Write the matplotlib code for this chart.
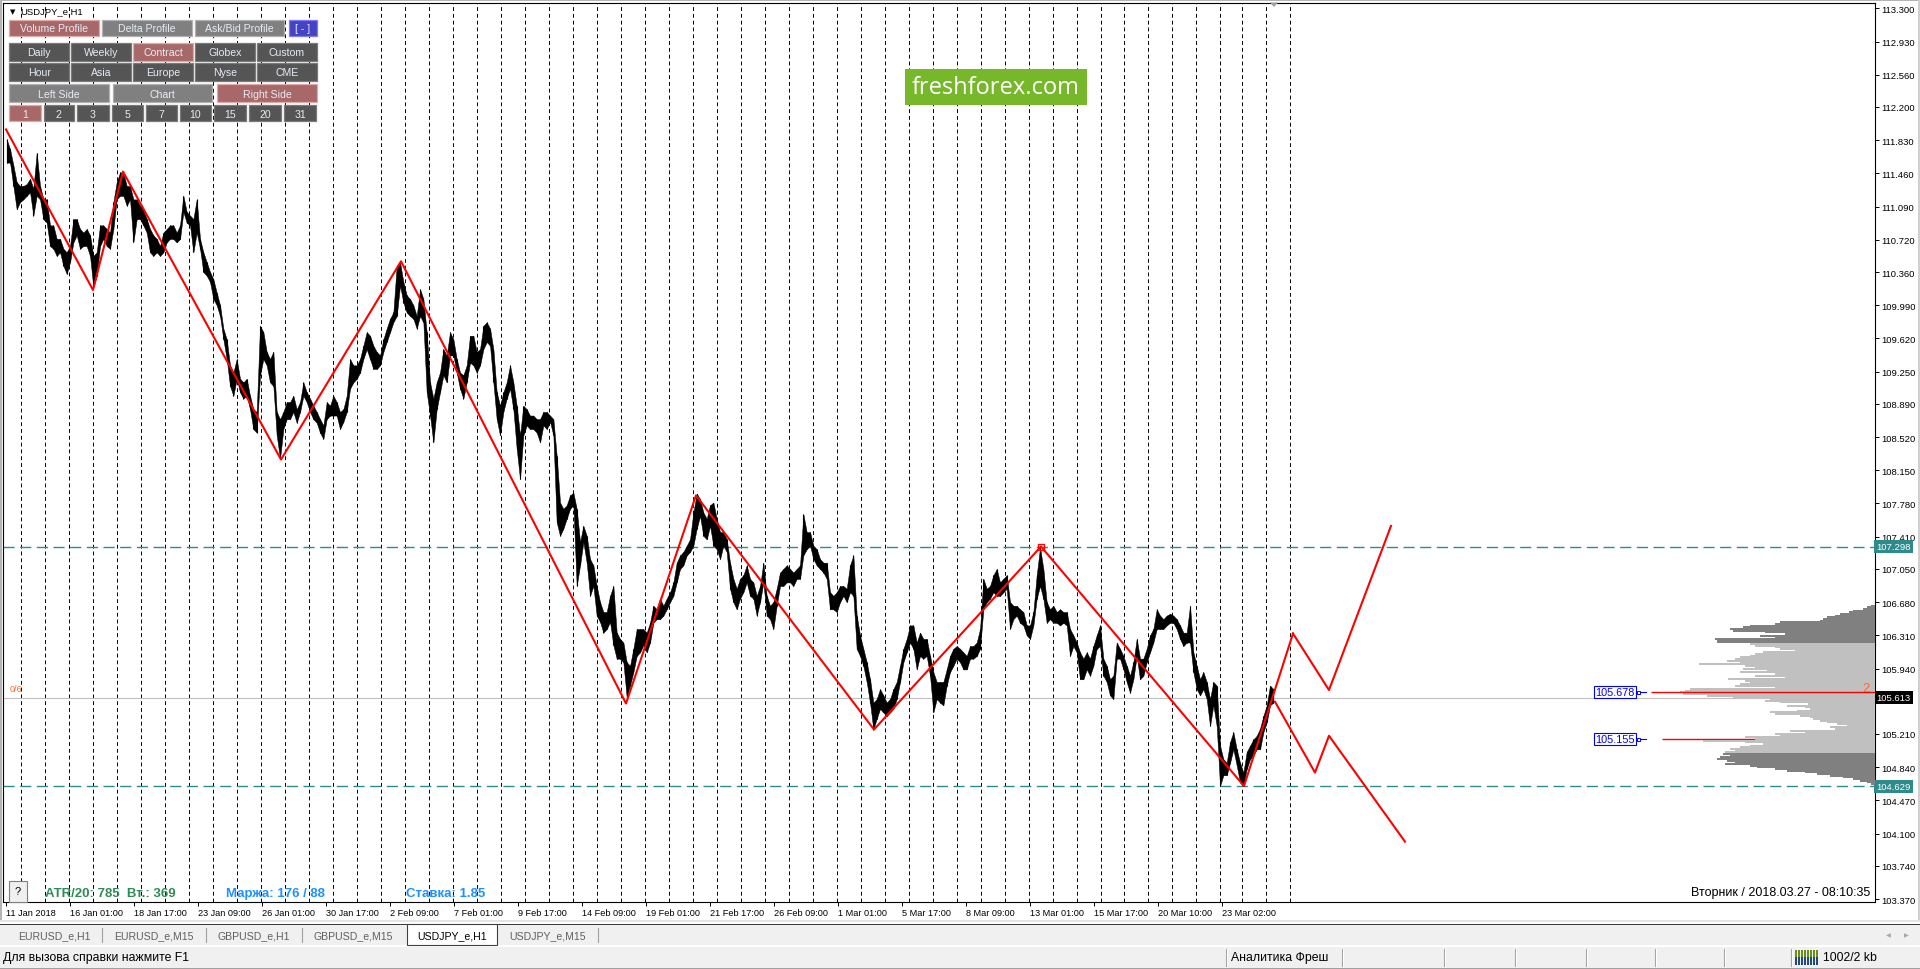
import matplotlib.pyplot as plt
from matplotlib.patches import Rectangle, Polygon
from matplotlib.lines import Line2D
import numpy as np

plt.rcParams['font.family'] = ['Liberation Sans', 'DejaVu Sans']

# ---------------- data ----------------
time_labels = ['11 Jan 2018', '16 Jan 01:00', '18 Jan 17:00', '23 Jan 09:00', '26 Jan 01:00',
               '30 Jan 17:00', '2 Feb 09:00', '7 Feb 01:00', '9 Feb 17:00', '14 Feb 09:00',
               '19 Feb 01:00', '21 Feb 17:00', '26 Feb 09:00', '1 Mar 01:00', '5 Mar 17:00',
               '8 Mar 09:00', '13 Mar 01:00', '15 Mar 17:00', '20 Mar 10:00', '23 Mar 02:00']
bars_per_label = 64

# 105.570 sits under the bid tag in the terminal, so it is left out here
price_ticks = [113.300, 112.930, 112.560, 112.200, 111.830, 111.460, 111.090, 110.720, 110.360,
               109.990, 109.620, 109.250, 108.890, 108.520, 108.150, 107.780, 107.410, 107.050,
               106.680, 106.310, 105.940, 105.210, 104.840, 104.470, 104.100, 103.740, 103.370]

# day separators (bar index of each day start; 16 Mar and 23 Mar are short days)
day_starts = [15 + 24 * d for d in range(46)] + [1118, 1142, 1166, 1190, 1214, 1236, 1260, 1284]

# H1 price range, sampled every 10/3 bars (high / low of each sample)
hi_jan = [111.84, 111.73, 111.55, 111.36, 111.32, 111.32, 111.34, 111.40, 111.29, 111.69,
          111.32, 111.17, 111.17, 110.88, 110.88, 110.73, 110.73, 110.62, 110.58, 110.65,
          110.95, 110.95, 110.84, 110.80, 110.84, 110.77, 110.54, 110.58, 110.88, 110.88,
          110.84, 110.80, 111.14, 111.36, 111.47, 111.47, 111.32, 111.32, 111.17, 111.17,
          111.10, 111.06, 110.95, 110.84, 110.77, 110.73, 110.65, 110.80, 110.84, 110.88,
          110.88, 110.80, 110.88, 111.21, 111.03, 110.99, 110.95, 111.17, 110.73, 110.58,
          110.47, 110.36, 110.28, 110.13, 109.99, 109.73, 109.61, 109.32, 109.24, 109.39,
          109.17, 109.13, 109.17, 108.98, 108.83, 108.80, 109.76, 109.69, 109.47, 109.39,
          109.47, 108.80, 108.72, 108.80, 108.91, 108.91, 108.98, 108.83, 108.91, 109.13,
          109.02, 108.95, 108.87, 108.80, 108.72, 108.65, 108.91]
lo_jan = [111.58, 111.58, 111.32, 111.06, 111.14, 111.17, 111.21, 111.25, 110.99, 111.21,
          111.17, 110.95, 110.91, 110.65, 110.62, 110.54, 110.58, 110.43, 110.34, 110.47,
          110.69, 110.77, 110.62, 110.65, 110.65, 110.54, 110.19, 110.32, 110.65, 110.73,
          110.65, 110.62, 110.84, 111.17, 111.21, 111.21, 111.10, 111.17, 110.69, 110.95,
          110.95, 110.88, 110.80, 110.58, 110.54, 110.58, 110.54, 110.58, 110.69, 110.73,
          110.73, 110.69, 110.73, 111.03, 110.91, 110.88, 110.58, 110.80, 110.62, 110.36,
          110.32, 110.25, 110.06, 109.99, 109.87, 109.61, 109.39, 109.09, 108.98, 109.17,
          109.02, 108.95, 108.98, 108.83, 108.61, 108.57, 109.21, 109.39, 109.32, 109.13,
          109.09, 108.54, 108.28, 108.61, 108.72, 108.72, 108.80, 108.68, 108.80, 108.98,
          108.91, 108.80, 108.72, 108.68, 108.57, 108.50, 108.72]
hi_feb = [108.87, 108.98, 108.91, 108.80, 108.83, 108.98, 109.39, 109.32, 109.32, 109.39,
          109.54, 109.69, 109.65, 109.54, 109.47, 109.43, 109.61, 109.73, 109.84, 109.91,
          110.43, 110.47, 110.25, 110.10, 110.06, 109.99, 109.87, 110.17, 110.06, 109.69,
          109.13, 108.95, 109.13, 109.24, 109.50, 109.43, 109.69, 109.61, 109.39, 109.24,
          109.21, 109.32, 109.65, 109.65, 109.47, 109.50, 109.76, 109.80, 109.73, 109.50,
          109.02, 108.87, 109.02, 109.13, 109.32, 109.13, 108.87, 108.54, 108.87, 108.83,
          108.76, 108.76, 108.72, 108.72, 108.80, 108.80, 108.76, 108.72, 108.31, 107.79,
          107.72, 107.76, 107.87, 107.90, 107.72, 107.35, 107.53, 107.42, 107.16, 107.09,
          106.86, 106.68, 106.57, 106.57, 106.75, 106.86, 106.34, 106.27, 106.23, 106.01,
          105.97, 106.16, 106.38, 106.38, 106.38, 106.34, 106.45, 106.64, 106.60]
lo_feb = [108.76, 108.76, 108.76, 108.61, 108.69, 108.80, 109.06, 109.13, 109.17, 109.24,
          109.39, 109.50, 109.39, 109.28, 109.28, 109.32, 109.47, 109.58, 109.69, 109.80,
          109.87, 110.21, 110.02, 109.91, 109.87, 109.84, 109.73, 109.87, 109.80, 109.02,
          108.76, 108.46, 108.83, 109.02, 109.21, 109.13, 109.43, 109.43, 109.24, 109.06,
          108.95, 109.13, 109.35, 109.32, 109.24, 109.32, 109.50, 109.58, 109.54, 109.13,
          108.72, 108.54, 108.80, 108.95, 109.06, 108.83, 108.39, 108.05, 108.54, 108.65,
          108.61, 108.61, 108.57, 108.46, 108.65, 108.61, 108.69, 108.54, 107.57, 107.42,
          107.50, 107.61, 107.72, 107.76, 106.86, 107.09, 107.35, 107.12, 106.75, 106.86,
          106.53, 106.46, 106.34, 106.38, 106.46, 106.20, 106.05, 106.05, 106.01, 105.62,
          105.75, 105.90, 106.08, 106.12, 106.20, 106.12, 106.23, 106.45, 106.49]
hi_mar = [106.72, 106.64, 106.72, 106.79, 106.90, 107.12, 107.20, 107.24, 107.31, 107.38,
          107.68, 107.89, 107.83, 107.68, 107.61, 107.76, 107.79, 107.61, 107.46, 107.46,
          107.38, 107.12, 106.94, 106.83, 106.94, 106.98, 107.09, 106.94, 106.90, 106.75,
          106.86, 107.12, 106.75, 106.64, 106.68, 106.83, 107.01, 107.05, 107.09, 107.05,
          107.01, 107.05, 107.09, 107.66, 107.46, 107.46, 107.31, 107.27, 107.16, 107.12,
          107.12, 106.79, 106.75, 106.79, 106.86, 106.86, 106.83, 107.09, 107.20, 106.53,
          106.31, 106.16, 106.01, 105.82, 105.56, 105.60, 105.71, 105.64, 105.56, 105.60,
          105.71, 105.79, 105.97, 106.16, 106.27, 106.42, 106.42, 106.23, 106.34, 106.27,
          106.27, 106.08, 105.90, 105.79, 105.79, 105.79, 105.93, 106.08, 106.16, 106.19,
          106.16, 106.12, 106.08, 106.19, 106.19, 106.23, 106.38, 106.94, 106.83, 106.86,
          106.98, 107.05]
lo_mar = [106.49, 106.53, 106.60, 106.68, 106.75, 106.90, 107.05, 107.09, 107.20, 107.24,
          107.31, 107.50, 107.64, 107.42, 107.38, 107.53, 107.31, 107.27, 107.16, 107.31,
          107.24, 106.83, 106.68, 106.60, 106.72, 106.79, 106.90, 106.75, 106.72, 106.53,
          106.68, 106.90, 106.53, 106.49, 106.38, 106.64, 106.86, 106.86, 106.90, 106.90,
          106.86, 106.94, 106.94, 107.20, 107.27, 107.31, 107.16, 107.09, 107.05, 107.01,
          106.94, 106.60, 106.60, 106.57, 106.68, 106.75, 106.68, 106.79, 106.75, 106.16,
          106.08, 105.97, 105.79, 105.56, 105.26, 105.38, 105.49, 105.45, 105.41, 105.45,
          105.49, 105.60, 105.79, 106.01, 106.12, 106.23, 106.16, 105.93, 106.08, 106.05,
          106.08, 105.86, 105.45, 105.60, 105.56, 105.53, 105.75, 105.90, 105.97, 106.05,
          106.01, 105.93, 105.93, 106.05, 106.05, 106.08, 106.16, 106.60, 106.68, 106.72,
          106.79, 106.75]
hi_end = [106.90, 106.94, 106.98, 106.68, 106.64, 106.64, 106.60, 106.57, 106.42, 106.42,
          106.57, 106.98, 107.29, 107.05, 106.68, 106.60, 106.64, 106.57, 106.60, 106.57,
          106.57, 106.38, 106.31, 106.23, 106.12, 106.05, 106.12, 106.05, 106.19, 106.31,
          106.42, 106.05, 105.97, 105.82, 105.86, 106.23, 106.16, 106.08, 105.97, 105.86,
          106.01, 106.27, 106.05, 106.05, 106.16, 106.31, 106.38, 106.60, 106.53, 106.49,
          106.53, 106.55, 106.53, 106.49, 106.42, 106.34, 106.34, 106.64, 106.12, 105.97,
          105.82, 105.90, 105.79, 105.60, 105.79, 105.75, 105.08, 104.93, 104.89, 105.12,
          105.23, 105.04, 104.89, 104.78, 105.01, 105.08, 105.15, 105.19, 105.27, 105.41,
          105.53, 105.75, 105.71]
lo_end = [106.75, 106.79, 106.83, 106.38, 106.49, 106.53, 106.45, 106.42, 106.31, 106.27,
          106.42, 106.72, 106.86, 106.72, 106.45, 106.49, 106.45, 106.45, 106.42, 106.45,
          106.42, 106.08, 106.19, 106.12, 105.82, 105.82, 105.93, 105.86, 105.97, 106.16,
          106.19, 105.86, 105.79, 105.64, 105.60, 106.05, 106.05, 105.93, 105.79, 105.67,
          105.82, 106.08, 105.82, 105.86, 106.01, 106.12, 106.23, 106.38, 106.38, 106.38,
          106.42, 106.45, 106.45, 106.38, 106.27, 106.19, 106.23, 106.23, 105.90, 105.71,
          105.64, 105.71, 105.60, 105.30, 105.53, 105.30, 104.63, 104.75, 104.75, 104.89,
          105.04, 104.86, 104.67, 104.63, 104.82, 104.93, 104.97, 105.04, 105.04, 105.23,
          105.34, 105.53, 105.56]
sample_step = 10 / 3

# zigzag and the two projected paths
zz_bars = [0, 87, 117, 275, 395, 620, 690, 868, 1035, 1238, 1287]
zz_price = [111.95, 110.16, 111.48, 108.27, 110.48, 105.55, 107.87, 105.26, 107.30, 104.63, 106.33]
up_bars = [1287, 1323, 1385]
up_price = [106.33, 105.70, 107.53]
dn_bars = [1269, 1309, 1323, 1399]
dn_price = [105.57, 104.78, 105.19, 104.01]

level_top = 107.298
level_bottom = 104.629
bid = 105.613
poc = 105.678
second_level = 105.155

# volume profile (contract), top level and step, volumes per row
vp_top = 106.641
vp_step = 0.01858
vp_volume = [4, 8, 12, 22, 26, 35, 40, 48, 52, 55, 95, 100, 125, 132, 145, 142, 110, 90, 115, 100,
             160, 158, 158, 125, 120, 100, 95, 80, 112, 120, 125, 135, 140, 148, 135, 176, 130, 120,
             132, 108, 135, 100, 120, 90, 147, 130, 125, 135, 140, 100, 185, 190, 195, 192, 168, 142,
             105, 110, 95, 67, 88, 70, 65, 78, 105, 100, 75, 65, 62, 55, 48, 38, 28, 45, 40, 85, 70,
             100, 95, 130, 120, 172, 130, 112, 125, 135, 145, 140, 150, 152, 145, 155, 158, 148, 140,
             150, 125, 118, 100, 88, 70, 58, 45, 32, 22, 15, 8, 4]
va_high = 106.22
va_low = 105.00

# ---------------- figure ----------------
W, H = 1920, 970
fig = plt.figure(figsize=(W / 100, H / 100), dpi=100)
fig.patch.set_facecolor('white')


def fbox(x0, y0, x1, y1, fc, ec='none', lw=0.0, z=2):
    fig.add_artist(Rectangle((x0 / W, 1 - y1 / H), (x1 - x0) / W, (y1 - y0) / H,
                             transform=fig.transFigure, fc=fc, ec=ec, lw=lw, zorder=z))


def ftext(x, y, s, **kw):
    kw.setdefault('va', 'center')
    kw.setdefault('zorder', 6)
    fig.text(x / W, 1 - y / H, s, **kw)


def fline(xs, ys, **kw):
    fig.add_artist(Line2D([x / W for x in xs], [1 - y / H for y in ys],
                          transform=fig.transFigure, **kw))


L, T, R, B = 3, 3.5, 1875, 903
ax = fig.add_axes([L / W, 1 - B / H, (R - L) / W, (B - T) / H])
ymin, ymax = 103.337, 113.365
ax.set_xlim(-3, R - L - 3)
ax.set_ylim(ymin, ymax)

highs = np.array(hi_jan + hi_feb + hi_mar + hi_end)
lows = np.array(lo_jan + lo_feb + lo_mar + lo_end)
sample_bars = 0.7 + np.arange(len(highs)) * sample_step

ax.vlines(day_starts, ymin, ymax, colors='black', lw=0.7, linestyles=(0, (4, 3)), zorder=1)

teal = '#2E8B8B'
ax.axhline(level_top, color=teal, lw=1.0, ls=(0, (8, 4)), zorder=2)
ax.axhline(level_bottom, color=teal, lw=1.0, ls=(0, (8, 4)), zorder=2)
ax.axhline(bid, color='#C0C0C0', lw=0.8, zorder=2)

ax.fill_between(sample_bars, lows, highs, color='black', lw=0.35, zorder=3)
ax.vlines(sample_bars, lows, highs, colors='black', lw=0.8, zorder=3)

ax.plot(zz_bars, zz_price, color='red', lw=1.5, zorder=4)
ax.plot(up_bars, up_price, color='red', lw=1.5, zorder=4)
ax.plot(dn_bars, dn_price, color='red', lw=1.5, zorder=4)
ax.plot([zz_bars[8]], [zz_price[8]], marker='s', ms=4, mfc='none', mec='red', mew=1, zorder=5)

ax.set_xticks(np.arange(len(time_labels)) * bars_per_label)
ax.set_xticklabels(time_labels, ha='left', fontsize=6.6)
ax.tick_params(axis='x', direction='out', length=3, width=0.7, pad=1.5)
ax.yaxis.tick_right()
ax.set_yticks(price_ticks)
ax.set_yticklabels([f'{v:.3f}' for v in price_ticks], fontsize=6.8)
ax.tick_params(axis='y', direction='out', length=3, width=0.7, pad=1.5)
for s in ax.spines.values():
    s.set_linewidth(0.8)
    s.set_color('black')


def axis_tag(price, text, fc, tc='white'):
    ax.text(1.0008, price, text, transform=ax.get_yaxis_transform(), ha='left', va='center',
            fontsize=6.8, color=tc, clip_on=False, zorder=10,
            bbox=dict(boxstyle='square,pad=0.22', fc=fc, ec='none'))


axis_tag(level_top, f'{level_top:.3f}', teal)
axis_tag(level_bottom, f'{level_bottom:.3f}', teal)
axis_tag(bid, f'{bid:.3f}', 'black')

# volume profile on a twin axis, measured from the right edge
axp = ax.twiny()
axp.set_xlim(R - L, 0)
axp.axis('off')
vp_levels = vp_top - vp_step * np.arange(len(vp_volume))
vp_colors = ['#C0C0C0' if va_low <= lv <= va_high else '#808080' for lv in vp_levels]
axp.hlines(second_level, 0, 213, color='red', lw=1.0, zorder=1)
axp.barh(vp_levels, vp_volume, height=vp_step * 1.08, color=vp_colors, lw=0, zorder=2)
axp.hlines(poc, 0, 224, color='red', lw=1.0, zorder=3)

# boxed level labels of the profile
for price, yy in [(poc, 693), (second_level, 740)]:
    ftext(1595, yy, f'{price:.3f}', color='blue', fontsize=7.8, ha='left',
          bbox=dict(boxstyle='square,pad=0.12', fc='white', ec='blue', lw=0.8))
    fbox(1637, yy - 1.5, 1640, yy + 1.5, 'white', ec='blue', lw=0.7, z=6)
    fline([1640, 1646], [yy, yy], color='blue', lw=0.8, zorder=6)
ftext(1866, 689, '2', color='#FF6A30', fontsize=9.5, ha='center')
ftext(10, 689, '0/6', color='#FF6A30', fontsize=6.5, ha='left')

# ---------------- terminal decorations ----------------
fbox(0, 0, W, 1.5, '#B4B4B4', z=1)
fbox(0, 0, 1.5, 921, '#B4B4B4', z=1)
fbox(W - 2, 0, W, 921, '#D0D0D0', z=1)
fig.add_artist(Polygon([(1270 / W, 1 - 3.5 / H), (1278 / W, 1 - 3.5 / H), (1274 / W, 1 - 8 / H)],
                       closed=True, transform=fig.transFigure, fc='#A0A0A0', ec='none', zorder=3))

ftext(12.5, 12, '\u25bc', fontsize=5, ha='center', family='DejaVu Sans')
ftext(20, 12, 'USDJPY_e,H1', fontsize=6.8, ha='left')

styles = {'red': ('#A86868', '#E0A8A8'), 'grey': ('#808080', '#B0B0B0'),
          'dark': ('#555555', '#7A7A7A'), 'blue': ('#4343C4', '#7B7BFF')}
buttons = [
    ((20.7, 37.3), [('Volume Profile', 9.3, 99.3, 'red'), ('Delta Profile', 102, 192, 'grey'),
                    ('Ask/Bid Profile', 195, 284, 'grey'), ('[ - ]', 289, 317, 'blue')]),
    ((44.3, 61.7), [('Daily', 9.3, 69, 'dark'), ('Weekly', 71, 131, 'dark'), ('Contract', 133, 193, 'red'),
                    ('Globex', 195, 255, 'dark'), ('Custom', 257, 317, 'dark')]),
    ((64.3, 81.7), [('Hour', 9.3, 69, 'dark'), ('Asia', 71, 131, 'dark'), ('Europe', 133, 193, 'dark'),
                    ('Nyse', 195, 255, 'dark'), ('CME', 257, 317, 'dark')]),
    ((85.3, 102.7), [('Left Side', 9.3, 109, 'grey'), ('Chart', 113, 212, 'grey'),
                     ('Right Side', 217, 317, 'red')]),
    ((106, 122), [('1', 9.3, 40.7, 'red'), ('2', 43.5, 74, 'dark'), ('3', 77.3, 108.5, 'dark'),
                  ('5', 111.7, 142.7, 'dark'), ('7', 145.7, 176.7, 'dark'), ('10', 179.7, 211, 'dark'),
                  ('15', 214, 246, 'dark'), ('20', 249.3, 280.7, 'dark'), ('31', 284, 316, 'dark')]),
]
for (y0, y1), row in buttons:
    for label, x0, x1, kind in row:
        fc, ec = styles[kind]
        fbox(x0, y0, x1, y1, fc, ec=ec, lw=0.9, z=4)
        ftext((x0 + x1) / 2, (y0 + y1) / 2 + 0.5, label, color='#E6ECF5', fontsize=7.6, ha='center')

# watermark
fbox(905, 70, 1087, 106, '#76B82A', z=4)
ftext(996, 88, 'freshforex.com', color='white', fontsize=17, ha='center', family='Open Sans')

# bottom info line inside the chart
fbox(8.5, 882, 26.5, 903, '#F0F0F0', ec='#808080', lw=0.8, z=4)
ftext(17.5, 892.5, '?', fontsize=8, ha='center')
ftext(45, 894, 'ATR/20: 785  Вт.: 369', color='#2E8B57', fontsize=9.5, weight='bold', ha='left')
ftext(226, 894, 'Маржа: 176 / 88', color='#1E90FF', fontsize=9.5, weight='bold', ha='left')
ftext(406, 894, 'Ставка: 1.85', color='#1E90FF', fontsize=9.5, weight='bold', ha='left')
ftext(1870, 893, 'Вторник / 2018.03.27 - 08:10:35', fontsize=9, ha='right')

# tab bar
fbox(0, 921, W, 923, '#E4E4E4', z=1)
fbox(0, 924.5, W, 926, '#3C3C3C', z=1)
fbox(0, 926, W, 946, '#F0F0F0', z=1)
fbox(407, 925, 497, 946, 'white', ec='#404040', lw=0.8, z=2)
tabs = [('EURUSD_e,H1', 18), ('EURUSD_e,M15', 114), ('GBPUSD_e,H1', 217), ('GBPUSD_e,M15', 313),
        ('USDJPY_e,H1', 417), ('USDJPY_e,M15', 509)]
for name, x in tabs:
    ftext(x, 936, name, fontsize=7.6, ha='left', color='black' if name == 'USDJPY_e,H1' else '#606060')
for x in [102, 206, 302, 598]:
    fline([x, x], [929, 943], color='#A0A0A0', lw=0.8)
ftext(1888, 936, '\u25c0', fontsize=4.5, ha='center', color='#A8A8A8', family='DejaVu Sans')
ftext(1906, 936, '\u25b6', fontsize=4.5, ha='center', color='#A8A8A8', family='DejaVu Sans')

# status bar
fbox(0, 946, W, 947.5, 'white', z=1)
fbox(0, 947.5, W, 970, '#F0F0F0', z=1)
fbox(0, 968.5, W, 970, '#A0A0A0', z=1)
ftext(3, 958, 'Для вызова справки нажмите F1', fontsize=8.8, ha='left')
ftext(1231, 958, 'Аналитика Фреш', fontsize=8.8, ha='left')
for x in [1226, 1342, 1444, 1515, 1586, 1655, 1724, 1791]:
    fline([x, x], [950, 967], color='#A0A0A0', lw=0.8)
    fline([x + 1, x + 1], [950, 967], color='white', lw=0.8)
for i in range(8):
    bx = 1795 + 3 * i
    fbox(bx, 951, bx + 2, 958, '#6E8B1E', z=3)
    fbox(bx, 958, bx + 2, 966, '#1F4A7A', z=3)
ftext(1823, 958, '1002/2 kb', fontsize=8.8, ha='left')

fig.savefig('out.png', dpi=100, facecolor=fig.get_facecolor())
